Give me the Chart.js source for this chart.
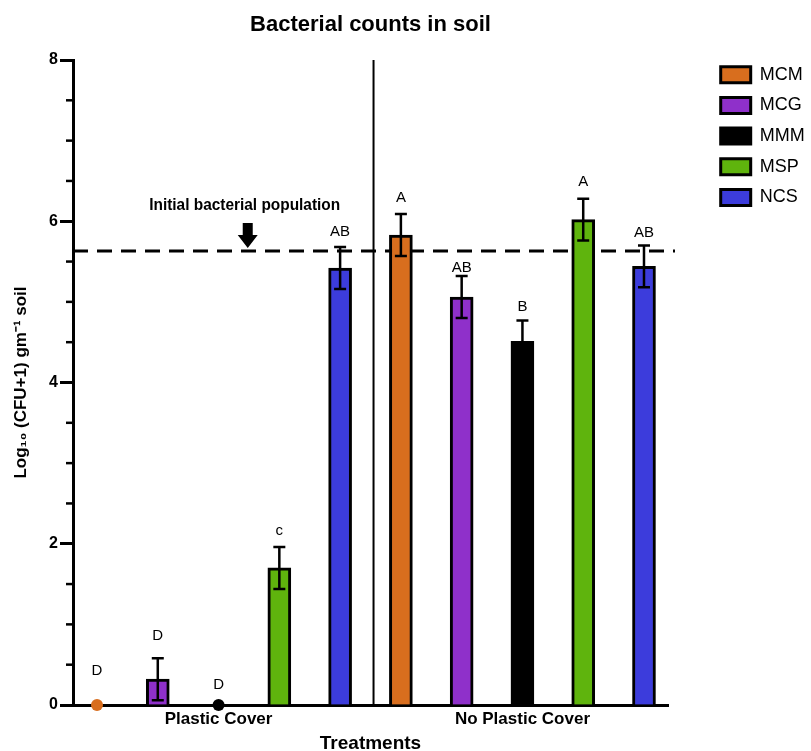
<!DOCTYPE html>
<html><head><meta charset="utf-8">
<script src="https://cdn.jsdelivr.net/npm/chart.js@4/dist/chart.umd.min.js"></script>
<style>html,body{margin:0;padding:0;background:#fff}canvas{display:block}</style>
</head><body>
<canvas id="c" width="811" height="751"></canvas>
<script>
// ---- data ----
const categories = ['MCM', 'MCG', 'MMM', 'MSP', 'NCS'];
const groups = ['Plastic Cover', 'No Plastic Cover'];
const plasticMeans = [0, 0.32, 0, 1.70, 5.42];
const plasticErrors = [0, 0.26, 0, 0.26, 0.26];
const noPlasticMeans = [5.83, 5.06, 4.51, 6.02, 5.44];
const noPlasticErrors = [0.26, 0.26, 0.26, 0.26, 0.26];
const plasticLetters = ['D', 'D', 'D', 'c', 'AB'];
const noPlasticLetters = ['A', 'AB', 'B', 'A', 'AB'];
const initialPopulation = 5.63;
const initialLabel = 'Initial bacterial population';
const yTicks = [0, 2, 4, 6, 8];
const yMinorStep = 0.5;

// ---- styles ----
const colors = ['#D86E1E', '#8F30CA', '#000000', '#5FB40D', '#3C3CDC'];
const plasticLetterGap = [34, 22, 20, 16, 15];
const noPlasticLetterGap = [16, 8, 14, 17, 13];
const FONT = "'Liberation Sans', Arial, Helvetica, sans-serif";
const xMin = -0.395, xMax = 9.395;
const dividerAt = 4.55;
const dashEnd = 9.51;
const arrowAt = 2.48, labelAt = 2.43;

const groupSize = categories.length;
const barDatasets = categories.map((c, i) => ({
  label: c,
  data: [{x: i, y: plasticMeans[i]}, {x: groupSize + i, y: noPlasticMeans[i]}],
  backgroundColor: colors[i],
  borderColor: '#000',
  borderWidth: 3,
  barThickness: 23,
  grouped: false,
  order: 2
}));
const dotData = [], dotColors = [];
plasticMeans.forEach((v, i) => { if (v === 0) { dotData.push({x: i, y: v}); dotColors.push(colors[i]); } });
const dotDataset = {
  type: 'scatter', label: 'zero', data: dotData,
  pointRadius: 6, pointBackgroundColor: dotColors, pointBorderWidth: 0,
  clip: false, order: 1
};

const annot = {
  id: 'annot',
  beforeDatasetsDraw(chart) {
    const {ctx} = chart; const xs = chart.scales.x, ys = chart.scales.y;
    ctx.save();
    // divider
    ctx.strokeStyle = '#000'; ctx.lineWidth = 2;
    ctx.beginPath();
    ctx.moveTo(xs.getPixelForValue(dividerAt), ys.getPixelForValue(8));
    ctx.lineTo(xs.getPixelForValue(dividerAt), ys.getPixelForValue(0));
    ctx.stroke();
    // initial population dashed line
    const yp = ys.getPixelForValue(initialPopulation);
    ctx.lineWidth = 3; ctx.setLineDash([15, 9]);
    ctx.beginPath();
    ctx.moveTo(xs.left, yp); ctx.lineTo(xs.getPixelForValue(dashEnd), yp);
    ctx.stroke();
    ctx.restore();
  },
  afterDatasetsDraw(chart) {
    const {ctx} = chart; const xs = chart.scales.x, ys = chart.scales.y;
    ctx.save();
    // error bars + letters
    const sets = [[plasticMeans, plasticErrors, plasticLetters, plasticLetterGap, 0],
                  [noPlasticMeans, noPlasticErrors, noPlasticLetters, noPlasticLetterGap, groupSize]];
    ctx.strokeStyle = '#000'; ctx.lineWidth = 2.5;
    sets.forEach(([m, e, l, g, off]) => {
      m.forEach((v, i) => {
        const x = xs.getPixelForValue(off + i);
        if (e[i] > 0) {
          const yt = ys.getPixelForValue(v + e[i]);
          const yb = ys.getPixelForValue(Math.max(0, v - e[i]));
          ctx.beginPath();
          ctx.moveTo(x, yt); ctx.lineTo(x, yb);
          ctx.moveTo(x - 6, yt); ctx.lineTo(x + 6, yt);
          ctx.moveTo(x - 6, yb); ctx.lineTo(x + 6, yb);
          ctx.stroke();
        }
        ctx.fillStyle = '#000';
        ctx.font = '15px ' + FONT;
        ctx.textAlign = 'center'; ctx.textBaseline = 'middle';
        ctx.fillText(l[i], x, ys.getPixelForValue(v + e[i]) - g[i]);
      });
    });
    // initial population label and arrow
    const yp = ys.getPixelForValue(initialPopulation);
    ctx.font = "bold 16px 'Liberation Sans Narrow', 'Liberation Sans', Arial, sans-serif";
    const w = ctx.measureText(initialLabel).width;
    const lx = xs.getPixelForValue(labelAt);
    ctx.save();
    ctx.translate(lx, yp - 45);
    ctx.scale(191 / w, 1);
    ctx.textAlign = 'center'; ctx.textBaseline = 'middle';
    ctx.fillText(initialLabel, 0, 0);
    ctx.restore();
    const ax = xs.getPixelForValue(arrowAt);
    ctx.beginPath();
    ctx.moveTo(ax - 5, yp - 28); ctx.lineTo(ax + 5, yp - 28);
    ctx.lineTo(ax + 5, yp - 16); ctx.lineTo(ax + 10, yp - 16);
    ctx.lineTo(ax, yp - 3); ctx.lineTo(ax - 10, yp - 16);
    ctx.lineTo(ax - 5, yp - 16); ctx.closePath();
    ctx.fill();
    // minor ticks on y axis
    ctx.lineWidth = 2.5; ctx.strokeStyle = '#000';
    for (let v = yMinorStep; v < 8; v += yMinorStep) {
      if (yTicks.includes(v)) continue;
      const y = ys.getPixelForValue(v);
      ctx.beginPath(); ctx.moveTo(ys.right - 7, y); ctx.lineTo(ys.right, y); ctx.stroke();
    }
    ctx.restore();
  }
};

new Chart(document.getElementById('c'), {
  type: 'bar',
  data: { datasets: [...barDatasets, dotDataset] },
  plugins: [annot],
  options: {
    responsive: false, animation: false,
    layout: { padding: { left: 0, right: 0, top: 0, bottom: 0 } },
    scales: {
      x: {
        type: 'linear', min: xMin, max: xMax, offset: false, bounds: 'ticks',
        afterDataLimits: s => { s.min = xMin; s.max = xMax; },
        afterBuildTicks: s => { s.ticks = [{value: 2}, {value: 7}]; },
        afterFit: s => { s.height = 46; },
        grid: { display: true, drawOnChartArea: false, drawTicks: false, offset: false },
        border: { display: true, color: '#000', width: 3 },
        ticks: {
          padding: 4, color: '#000', font: { family: FONT, size: 17, weight: 'bold' },
          callback: v => v === 2 ? groups[0] : (v === 7 ? groups[1] : '')
        },
        title: { display: true, text: 'Treatments', color: '#000',
                 font: { family: FONT, size: 19, weight: 'bold', lineHeight: 0.75 }, padding: 0 }
      },
      y: {
        type: 'linear', min: 0, max: 8,
        afterBuildTicks: s => { s.ticks = yTicks.map(v => ({value: v})); },
        afterFit: s => { s.width = 73; },
        grid: { display: true, drawOnChartArea: false, drawTicks: true, tickLength: 13, tickWidth: 3, tickColor: '#000' },
        border: { display: true, color: '#000', width: 3 },
        ticks: { padding: 2, color: '#000', font: { family: FONT, size: 16, weight: 'bold' } },
        title: { display: true, text: 'Log\u2081\u2080 (CFU+1) gm\u207B\u00B9 soil', color: '#000',
                 font: { family: FONT, size: 17, weight: 'bold' }, padding: { top: 11, bottom: 0 } }
      },
      spacer: {
        type: 'linear', position: 'right', display: true,
        afterFit: s => { s.width = 40; },
        grid: { display: false }, border: { display: false }, ticks: { display: false }
      }
    },
    plugins: {
      title: {
        display: true, text: 'Bacterial counts in soil', color: '#000', fullSize: false,
        font: { family: FONT, size: 22, weight: 'bold' }, padding: { top: 12, bottom: 21.6 }
      },
      legend: {
        position: 'right', align: 'start', fullSize: false, maxWidth: 103,
        title: { display: true, text: '', font: { size: 1, lineHeight: 1 }, padding: { top: 0, bottom: -8 } },
        labels: {
          boxWidth: 30, boxHeight: 16, padding: 12.7, color: '#000',
          font: { family: FONT, size: 18 },
          filter: item => item.datasetIndex < categories.length
        }
      },
      tooltip: { enabled: false }
    }
  }
});
</script>
</body></html>
